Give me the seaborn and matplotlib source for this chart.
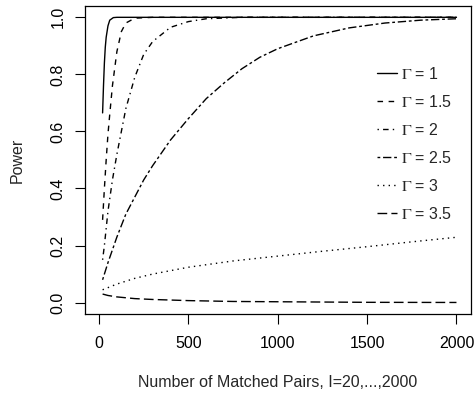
import matplotlib
matplotlib.use("Agg")
import matplotlib.pyplot as plt
import seaborn as sns
import pandas as pd

# Number of matched pairs at which each power curve is read
pairs_g1 = [20, 25, 30, 35, 40, 50, 60, 80, 100, 2000]
power_g1 = [0.665, 0.76, 0.84, 0.895, 0.93, 0.97, 0.99, 0.999, 1.0, 1.0]

pairs_g15 = [20, 30, 40, 50, 60, 75, 100, 125, 150, 200, 300, 2000]
power_g15 = [0.29, 0.40, 0.50, 0.59, 0.66, 0.76, 0.88, 0.95, 0.98, 0.997, 1.0, 1.0]

pairs_g2 = [20, 30, 40, 50, 75, 100, 150, 200, 250, 300, 400, 500, 600, 800, 2000]
power_g2 = [0.15, 0.20, 0.26, 0.32, 0.43, 0.52, 0.68, 0.79, 0.87, 0.915, 0.965, 0.985, 0.995, 1.0, 1.0]

pairs_g25 = [20, 50, 100, 150, 200, 250, 300, 400, 500, 600, 700, 800, 900, 1000,
             1200, 1400, 1600, 1800, 2000]
power_g25 = [0.08, 0.14, 0.23, 0.31, 0.37, 0.43, 0.48, 0.57, 0.645, 0.715, 0.77, 0.82,
             0.86, 0.89, 0.935, 0.963, 0.98, 0.99, 0.995]

pairs_g3 = [20, 100, 200, 300, 500, 750, 1000, 1250, 1500, 1750, 2000]
power_g3 = [0.045, 0.065, 0.085, 0.10, 0.124, 0.146, 0.163, 0.18, 0.196, 0.213, 0.229]

pairs_g35 = [20, 50, 100, 200, 300, 500, 750, 1000, 1500, 2000]
power_g35 = [0.03, 0.025, 0.02, 0.014, 0.011, 0.007, 0.004, 0.003, 0.001, 0.0005]

gamma_labels = ["1", "1.5", "2", "2.5", "3", "3.5"]
x_ticks = [0, 500, 1000, 1500, 2000]
y_ticks = [0.0, 0.2, 0.4, 0.6, 0.8, 1.0]

series = [
    (pairs_g1, power_g1),
    (pairs_g15, power_g15),
    (pairs_g2, power_g2),
    (pairs_g25, power_g25),
    (pairs_g3, power_g3),
    (pairs_g35, power_g35),
]

frames = []
for lab, (xs, ys) in zip(gamma_labels, series):
    frames.append(pd.DataFrame({"I": xs, "power": ys, "gamma": lab}))
df = pd.concat(frames, ignore_index=True)

# R-style line types: solid, dashed, dotdash, twodash, dotted, longdash
dash_map = {
    "1": "",
    "1.5": (4, 4),
    "2": (1, 3, 4, 3),
    "2.5": (2, 2, 6, 2),
    "3": (1, 3),
    "3.5": (7, 3),
}

sns.set_style("ticks")
plt.rcParams["font.family"] = ["Liberation Sans", "DejaVu Sans"]
plt.rcParams["mathtext.fontset"] = "stix"

fs = 11.5
fig = plt.figure(figsize=(4.76, 3.94), dpi=100)
ax = fig.add_axes([0.178, 0.203, 0.811, 0.782])

sns.lineplot(data=df, x="I", y="power", style="gamma", style_order=gamma_labels,
             dashes=dash_map, color="black", linewidth=1.0, estimator=None,
             sort=True, legend=False, ax=ax)

ax.set_xlim(-80, 2080)
ax.set_ylim(-0.04, 1.04)
ax.set_xticks(x_ticks)
ax.set_yticks(y_ticks)
ax.set_yticklabels([f"{v:.1f}" for v in y_ticks])

for side in ["top", "right", "bottom", "left"]:
    ax.spines[side].set_visible(True)
    ax.spines[side].set_color("black")
    ax.spines[side].set_linewidth(0.9)

ax.tick_params(axis="both", direction="out", length=6.9, width=0.8, color="black",
               labelsize=fs, labelcolor="black")
ax.tick_params(axis="x", pad=9)
ax.tick_params(axis="y", pad=7)
plt.setp(ax.get_yticklabels(), rotation=90, va="center")

ax.set_xlabel("Number of Matched Pairs, I=20,...,2000", fontsize=fs, va="center")
ax.set_ylabel("Power", fontsize=fs, va="center")
ax.xaxis.set_label_coords(0.5, -0.221)
ax.yaxis.set_label_coords(-0.175, 0.5)

handles = ax.get_lines()[:len(gamma_labels)]
labels = [r"$\Gamma$ = " + g for g in gamma_labels]
ax.legend(handles, labels, loc="upper left", bbox_to_anchor=(0.756, 0.806),
          frameon=False, fontsize=fs, handlelength=1.25, handletextpad=0.3,
          labelspacing=0.75, borderaxespad=0, borderpad=0)

fig.savefig("out.png", dpi=100)
